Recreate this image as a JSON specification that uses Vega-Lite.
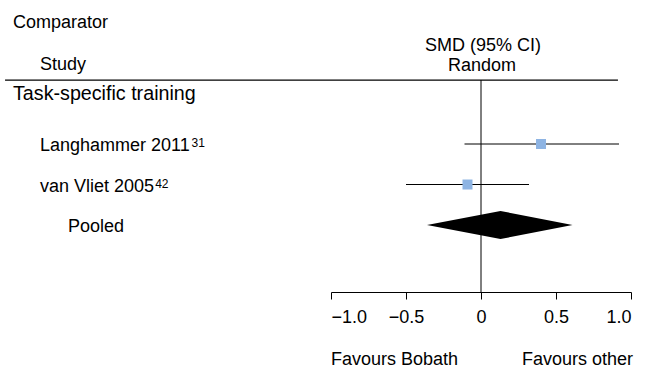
{
  "$schema": "https://vega.github.io/schema/vega-lite/v6.json",
  "width": 300,
  "height": 292,
  "autosize": {"type": "none"},
  "padding": {"left": 331, "right": 15, "top": 0, "bottom": 77},
  "background": "white",
  "config": {"view": {"stroke": null}, "font": "Liberation Sans"},
  "datasets": {
    "studies": [
      {"label": "Langhammer 2011", "ref": "31", "row": 1, "smd": 0.40, "lo": -0.11, "hi": 0.92},
      {"label": "van Vliet 2005", "ref": "42", "row": 2, "smd": -0.09, "lo": -0.50, "hi": 0.32}
    ],
    "pooled": [
      {"smd": -0.36, "top": 3, "bottom": 3},
      {"smd": 0.13, "top": 2.654, "bottom": 3.346},
      {"smd": 0.61, "top": 3, "bottom": 3}
    ]
  },
  "layer": [
    {
      "data": {"values": [{"ref": 0, "top": -0.58, "bottom": 4.654}]},
      "mark": {"type": "rule", "color": "black", "strokeWidth": 1},
      "encoding": {
        "x": {"field": "ref", "type": "quantitative", "title": null,
          "scale": {"domain": [-1, 1], "nice": false, "zero": false},
          "axis": {"values": [-1, -0.5, 0, 0.5, 1], "labelExpr": "datum.value == 0 ? '0' : format(datum.value, '.1f')",
            "title": null, "grid": false, "domainColor": "black", "tickColor": "black", "tickSize": 7,
            "labelFontSize": 18, "labelColor": "black", "labelPadding": 9, "labelFont": "Liberation Sans", "domainWidth": 1, "tickWidth": 1}},
        "y": {"field": "top", "type": "quantitative", "title": null, "axis": null,
          "scale": {"domain": [-2.556, 4.654], "reverse": true, "nice": false, "zero": false}},
        "y2": {"field": "bottom"}
      }
    },
    {
      "data": {"values": [{"start": -3.173, "end": 0.913, "at": -0.58}]},
      "mark": {"type": "rule", "color": "black", "strokeWidth": 1.3},
      "encoding": {
        "x": {"field": "start", "type": "quantitative", "title": null},
        "x2": {"field": "end"},
        "y": {"field": "at", "type": "quantitative", "title": null, "axis": null}
      }
    },
    {
      "data": {"name": "studies"},
      "mark": {"type": "rule", "color": "black", "strokeWidth": 1},
      "encoding": {
        "x": {"field": "lo", "type": "quantitative", "title": null},
        "x2": {"field": "hi"},
        "y": {"field": "row", "type": "quantitative", "title": null, "axis": null}
      }
    },
    {
      "data": {"name": "studies"},
      "mark": {"type": "point", "shape": "square", "filled": true, "color": "#8EB4E3", "opacity": 1, "size": 100},
      "encoding": {
        "x": {"field": "smd", "type": "quantitative", "title": null},
        "y": {"field": "row", "type": "quantitative", "title": null, "axis": null}
      }
    },
    {
      "data": {"name": "pooled"},
      "mark": {"type": "area", "color": "black", "orient": "vertical"},
      "encoding": {
        "x": {"field": "smd", "type": "quantitative", "title": null},
        "y": {"field": "top", "type": "quantitative", "title": null, "axis": null},
        "y2": {"field": "bottom"}
      }
    },
    {
      "data": {"name": "studies"},
      "mark": {"type": "text", "align": "left", "baseline": "alphabetic", "dy": 7, "fontSize": 18, "color": "black"},
      "encoding": {
        "x": {"datum": -2.94},
        "y": {"field": "row", "type": "quantitative", "title": null, "axis": null},
        "text": {"field": "label"}
      }
    },
    {
      "data": {"name": "studies"},
      "transform": [{"filter": "datum.row == 1"}],
      "mark": {"type": "text", "align": "left", "baseline": "alphabetic", "dy": 3, "fontSize": 12, "color": "black"},
      "encoding": {
        "x": {"datum": -1.93},
        "y": {"field": "row", "type": "quantitative", "title": null, "axis": null},
        "text": {"field": "ref"}
      }
    },
    {
      "data": {"name": "studies"},
      "transform": [{"filter": "datum.row == 2"}],
      "mark": {"type": "text", "align": "left", "baseline": "alphabetic", "dy": 3, "fontSize": 12, "color": "black"},
      "encoding": {
        "x": {"datum": -2.172},
        "y": {"field": "row", "type": "quantitative", "title": null, "axis": null},
        "text": {"field": "ref"}
      }
    },
    {
      "data": {"values": [{"label": "Pooled", "row": 3}]},
      "mark": {"type": "text", "align": "left", "baseline": "alphabetic", "dy": 7, "fontSize": 18, "color": "black"},
      "encoding": {
        "x": {"datum": -2.753},
        "y": {"field": "row", "type": "quantitative", "title": null, "axis": null},
        "text": {"field": "label"}
      }
    },
    {
      "data": {"values": [{"label": "Task-specific training"}]},
      "mark": {"type": "text", "align": "left", "baseline": "alphabetic", "fontSize": 19.7, "color": "black"},
      "encoding": {
        "x": {"datum": -3.12},
        "y": {"datum": -0.086},
        "text": {"field": "label"}
      }
    },
    {
      "data": {"values": [{"label": "Comparator"}]},
      "mark": {"type": "text", "align": "left", "baseline": "alphabetic", "fontSize": 18, "color": "black"},
      "encoding": {
        "x": {"datum": -3.12},
        "y": {"datum": -1.864},
        "text": {"field": "label"}
      }
    },
    {
      "data": {"values": [{"label": "Study"}]},
      "mark": {"type": "text", "align": "left", "baseline": "alphabetic", "fontSize": 18, "color": "black"},
      "encoding": {
        "x": {"datum": -2.94},
        "y": {"datum": -0.827},
        "text": {"field": "label"}
      }
    },
    {
      "data": {"values": [{"label": "SMD (95% CI)"}]},
      "mark": {"type": "text", "align": "center", "baseline": "alphabetic", "fontSize": 18, "color": "black"},
      "encoding": {
        "x": {"datum": 0.013},
        "y": {"datum": -1.296},
        "text": {"field": "label"}
      }
    },
    {
      "data": {"values": [{"label": "Random"}]},
      "mark": {"type": "text", "align": "center", "baseline": "alphabetic", "fontSize": 18, "color": "black"},
      "encoding": {
        "x": {"datum": 0.007},
        "y": {"datum": -0.802},
        "text": {"field": "label"}
      }
    },
    {
      "data": {"values": [{"label": "Favours Bobath"}]},
      "mark": {"type": "text", "align": "left", "baseline": "alphabetic", "fontSize": 18, "color": "black"},
      "encoding": {
        "x": {"datum": -1},
        "y": {"datum": 6.457},
        "text": {"field": "label"}
      }
    },
    {
      "data": {"values": [{"label": "Favours other"}]},
      "mark": {"type": "text", "align": "right", "baseline": "alphabetic", "fontSize": 18, "color": "black"},
      "encoding": {
        "x": {"datum": 1.013},
        "y": {"datum": 6.457},
        "text": {"field": "label"}
      }
    }
  ]
}
